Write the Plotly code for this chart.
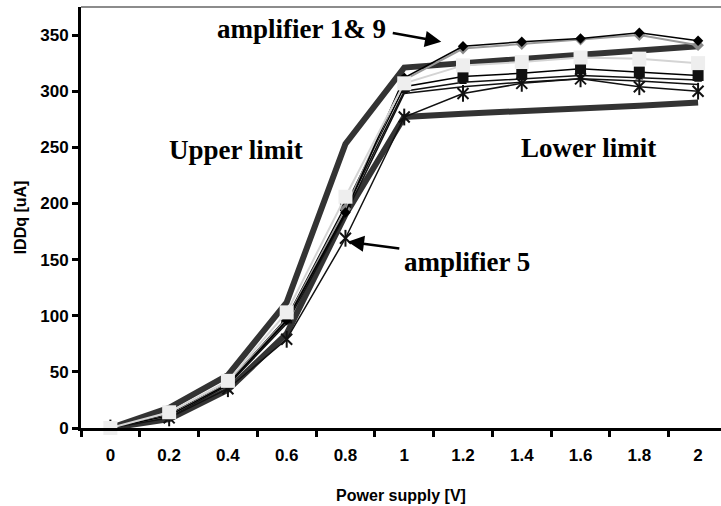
import plotly.graph_objects as go

# Supply voltage steps (categorical x axis)
supply_v = ["0", "0.2", "0.4", "0.6", "0.8", "1", "1.2", "1.4", "1.6", "1.8", "2"]

# IDDq limit curves [uA]
upper_limit = [0, 18, 47, 112, 253, 321, 325, 329, 332, 336, 340]
lower_limit = [0, 8, 34, 84, 190, 277, 280, 282, 285, 287, 290]

# Measured IDDq per amplifier [uA]
amp1 = [0, 11, 39, 96, 192, 312, 340, 344, 347, 352, 345]
amp9 = [0, 11, 40, 97, 195, 310, 338, 342, 346, 350, 341]
amp2 = [0, 14, 42, 103, 206, 307, 323, 326, 330, 329, 325]
amp3 = [0, 12, 40, 98, 198, 304, 313, 316, 320, 317, 314]
amp4 = [0, 11, 39, 95, 194, 300, 308, 311, 314, 312, 310]
amp6 = [0, 10, 38, 93, 190, 298, 304, 308, 311, 309, 306]
amp5 = [0, 9, 35, 79, 169, 277, 298, 307, 311, 304, 300]

y_ticks = [0, 50, 100, 150, 200, 250, 300, 350]

LIMIT_COLOR = "#333333"
fig = go.Figure()

for lim in (upper_limit, lower_limit):
    fig.add_trace(go.Scatter(x=supply_v, y=lim, mode="lines",
                             line=dict(color=LIMIT_COLOR, width=6),
                             showlegend=False, hoverinfo="skip"))

fig.add_trace(go.Scatter(x=supply_v, y=amp6, mode="lines",
                         line=dict(color="#111111", width=1.5), showlegend=False))
fig.add_trace(go.Scatter(x=supply_v, y=amp4, mode="lines+markers",
                         line=dict(color="#111111", width=1.5),
                         marker=dict(symbol="triangle-up", size=7, color="#111111"),
                         showlegend=False))
fig.add_trace(go.Scatter(x=supply_v, y=amp3, mode="lines+markers",
                         line=dict(color="#000000", width=1.5),
                         marker=dict(symbol="square", size=11, color="#111111"),
                         showlegend=False))
fig.add_trace(go.Scatter(x=supply_v, y=amp9, mode="lines+markers",
                         line=dict(color="#9a9a9a", width=2),
                         marker=dict(symbol="diamond", size=9, color="#8a8a8a"),
                         showlegend=False))
fig.add_trace(go.Scatter(x=supply_v, y=amp1, mode="lines+markers",
                         line=dict(color="#000000", width=1.5),
                         marker=dict(symbol="diamond", size=8, color="#000000"),
                         showlegend=False))
# amplifier 5: star marker built from an x and a vertical bar
fig.add_trace(go.Scatter(x=supply_v, y=amp5, mode="lines+markers",
                         line=dict(color="#111111", width=1.5),
                         marker=dict(symbol="x-thin-open", size=11, color="#111111",
                                     line=dict(color="#111111", width=2)),
                         showlegend=False))
fig.add_trace(go.Scatter(x=supply_v, y=amp5, mode="markers",
                         marker=dict(symbol="line-ns-open", size=12, color="#111111",
                                     line=dict(color="#111111", width=2)),
                         showlegend=False))
# light square series drawn last so its markers sit on top
fig.add_trace(go.Scatter(x=supply_v, y=amp2, mode="lines+markers",
                         line=dict(color="#d4d4d4", width=2),
                         marker=dict(symbol="square", size=14, color="#eeeeee",
                                     line=dict(width=0)),
                         cliponaxis=False, showlegend=False))

serif = dict(family="Liberation Serif, Times New Roman, serif", size=27, color="#000000")

annotations = [
    dict(x=2.13, y=248, text="<b>Upper limit</b>", showarrow=False, font=serif),
    dict(x=8.14, y=249, text="<b>Lower limit</b>", showarrow=False, font=serif),
    dict(x=3.26, y=355, text="<b>amplifier 1& 9</b>", showarrow=False, font=serif),
    dict(x=6.06, y=148, text="<b>amplifier 5</b>", showarrow=False, font=serif),
    # arrows
    dict(x=5.63, y=344, ax=-50, ay=-9, text="", showarrow=True,
         arrowhead=2, arrowsize=1.3, arrowwidth=2.5, arrowcolor="#000000"),
    dict(x=4.04, y=166, ax=53, ay=7, text="", showarrow=True,
         arrowhead=2, arrowsize=1.3, arrowwidth=2.5, arrowcolor="#000000"),
]

tick_font = dict(family="Liberation Sans, Arial, sans-serif", size=17,
                 color="#000000", weight="bold")
title_font = dict(family="Liberation Sans, Arial, sans-serif", size=16,
                  color="#000000", weight="bold")

fig.update_layout(
    width=721, height=506,
    margin=dict(l=81, r=0, t=7, b=78),
    paper_bgcolor="white", plot_bgcolor="white",
    showlegend=False,
    annotations=annotations,
    shapes=[dict(type="line", xref="paper", yref="paper", x0=0, x1=1, y0=1, y1=1,
                 line=dict(color="#8c8c8c", width=2))],
    xaxis=dict(
        type="category", range=[-0.5, 10.39],
        tickson="boundaries", ticks="outside", ticklen=6, tickwidth=3,
        tickcolor="#000000", showline=True, linewidth=3, linecolor="#000000",
        showgrid=False, zeroline=False, tickfont=tick_font,
        ticklabelstandoff=10,
        title=dict(text="Power supply [V]", font=title_font, standoff=26),
    ),
    yaxis=dict(
        range=[0, 375], tickvals=y_ticks, ticks="outside", ticklen=6, tickwidth=3,
        tickcolor="#000000", showline=True, linewidth=3, linecolor="#000000",
        showgrid=False, zeroline=False, tickfont=tick_font,
        title=dict(text="IDDq [uA]", font=title_font, standoff=10),
    ),
)

fig.write_html("out.html")
